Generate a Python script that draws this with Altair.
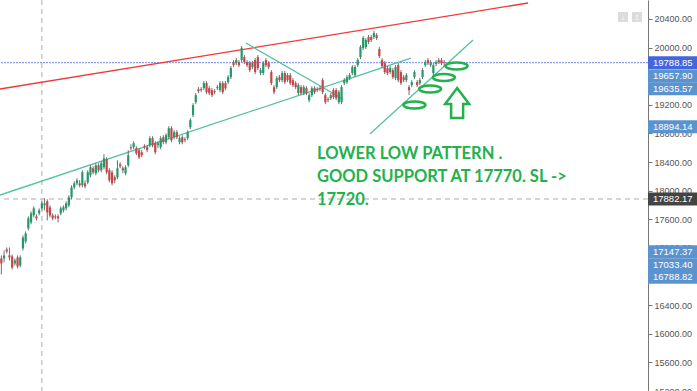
import altair as alt
import pandas as pd

# ---------------- data ----------------
opens = [17053,17053,17179,17095,17081,16983,17067,16955,17193,17291,
         17473,17557,17655,17641,17683,17753,17795,17851,17767,17655,
         17641,17641,17683,17725,17753,17795,17907,18047,18103,18103,
         18075,18103,18117,18215,18313,18243,18355,18285,18327,18439,
         18285,18257,18187,18187,18369,18313,18243,18355,18607,18607,
         18593,18565,18537,18621,18607,18635,18733,18663,18635,18607,
         18747,18677,18747,18873,18747,18817,18677,18747,18719,18733,
         18887,19055,19237,19419,19419,19433,19503,19433,19405,19391,
         19447,19405,19503,19503,19517,19587,19797,19783,19797,19825,
         19867,19797,19783,19727,19825,19867,19643,19643,19825,19783,
         19657,19447,19447,19587,19545,19643,19615,19615,19545,19503,
         19363,19447,19363,19433,19265,19335,19433,19419,19433,19545,
         19335,19279,19293,19405,19405,19237,19237,19503,19517,19573,
         19643,19615,19755,19867,19993,20007,20147,20147,20147,20175,
         19979,19825,19783,19713,19657,19685,19573,19755,19657,19587,
         19545,19447,19475,19587,19517,19503,19587,19755,19825,19755,
         19643,19769,19825,19825,19797]
highs = [17095,17165,17207,17207,17109,17053,17095,17095,17375,17431,
         17641,17711,17781,17669,17753,17851,17893,17879,17795,17683,
         17669,17669,17781,17795,17851,17935,18075,18131,18173,18145,
         18285,18145,18285,18355,18341,18383,18383,18411,18509,18467,
         18313,18285,18215,18425,18397,18341,18355,18565,18649,18691,
         18621,18593,18565,18649,18635,18761,18761,18691,18691,18761,
         18775,18803,18901,18901,18845,18845,18761,18775,18747,18845,
         19013,19223,19363,19447,19447,19531,19531,19461,19433,19419,
         19475,19531,19531,19531,19615,19741,19825,19853,19825,20021,
         19895,19825,19811,19811,19853,19895,19713,19811,19853,19811,
         19685,19475,19601,19615,19671,19671,19643,19643,19573,19531,
         19503,19475,19475,19461,19363,19461,19461,19447,19461,19573,
         19363,19307,19363,19433,19433,19405,19475,19573,19615,19643,
         19755,19755,19853,20035,20161,20133,20175,20175,20231,20203,
         20007,19853,19811,19741,19741,19713,19755,19783,19685,19615,
         19643,19475,19545,19685,19545,19573,19713,19825,19853,19825,
         19783,19825,19853,19853,19825]
lows = [16829,16997,17123,17025,16899,16955,16913,16927,17165,17263,
        17445,17529,17627,17585,17655,17725,17725,17585,17627,17585,
        17599,17557,17655,17697,17725,17767,17879,18019,18075,18047,
        18047,18033,18089,18187,18229,18215,18257,18257,18299,18229,
        18117,18075,18103,18159,18313,18243,18215,18327,18565,18579,
        18495,18439,18467,18579,18537,18607,18607,18509,18593,18579,
        18649,18649,18719,18677,18719,18719,18649,18649,18677,18705,
        18859,19027,19209,19363,19377,19405,19349,19335,19307,19349,
        19405,19377,19349,19405,19489,19559,19727,19755,19727,19797,
        19769,19727,19657,19699,19629,19685,19615,19615,19727,19699,
        19475,19349,19419,19517,19517,19489,19517,19475,19447,19419,
        19335,19335,19335,19335,19237,19307,19349,19377,19391,19349,
        19209,19237,19265,19279,19265,19209,19209,19475,19489,19545,
        19615,19587,19727,19839,19965,19979,20049,20077,20119,20105,
        19853,19713,19629,19615,19629,19559,19545,19517,19475,19517,
        19517,19335,19447,19559,19447,19475,19559,19727,19755,19727,
        19615,19741,19769,19755,19727]
closes = [16983,17095,17151,17067,16927,17025,16941,17067,17347,17403,
          17613,17683,17753,17613,17725,17823,17823,17697,17655,17613,
          17627,17613,17753,17767,17823,17907,18047,18103,18145,18075,
          18257,18061,18257,18327,18257,18355,18285,18383,18453,18257,
          18145,18103,18145,18313,18341,18285,18327,18495,18593,18663,
          18523,18467,18495,18607,18565,18733,18635,18537,18663,18733,
          18677,18775,18873,18705,18817,18747,18733,18677,18705,18817,
          18985,19195,19335,19391,19405,19503,19377,19363,19335,19377,
          19433,19503,19377,19433,19587,19713,19755,19825,19755,19993,
          19797,19755,19685,19783,19657,19713,19685,19783,19755,19727,
          19503,19377,19573,19545,19643,19517,19545,19503,19475,19447,
          19475,19363,19447,19363,19335,19433,19377,19405,19419,19377,
          19237,19265,19335,19307,19293,19377,19447,19545,19587,19615,
          19727,19727,19825,20007,20133,20105,20077,20105,20203,20133,
          19881,19741,19657,19643,19713,19587,19727,19545,19503,19545,
          19615,19405,19517,19657,19475,19545,19685,19797,19783,19797,
          19755,19797,19797,19783,19788.85]

# price tags on the right-hand scale
tag_values = [19788.85, 19657.90, 19635.57, 18894.14, 17882.17, 17147.37, 17033.40, 16788.82]
tag_kinds = ["last", "level", "level", "level", "cross", "level", "level", "level"]
tag_shift_px = [0, 4, 15, 0, 0, 0, 5, 0]   # stacking of overlapping tags
tag_palette = {"last": "#4466dd", "level": "#5b93cf", "cross": "#444444"}

axis_ticks = list(range(15200, 20401, 400))

# drawn lines (start index, start price, end index, end price)
red_line = {"x": [-0.5], "y": [19421], "x2": [195.1], "y2": [20623]}
teal_lines = {"x": [-0.5, 90.6, 136.5], "y": [17939, 20064, 18792],
              "x2": [151.7, 126.5, 174.7], "y2": [19854, 19281, 20106]}
ellipse_x = [153.0, 158.8, 163.9, 168.6]
ellipse_y = [19197, 19421, 19582, 19743]
arrow_x = [168.8]
arrow_y = [19225]
note_lines = ["LOWER LOW PATTERN .", "GOOD SUPPORT AT 17770. SL ->", "17720."]
note_x = [116.9]
note_y = [18443]
cross_index = 15
cross_price = 17882.17
last_price = 19788.85

# ---------------- chart ----------------
W, H = 648, 391
Y_MIN, Y_MAX = 15200, 20665
PX = (Y_MAX - Y_MIN) / H

xs = alt.Scale(domain=[-0.5, 239.5], nice=False, zero=False, padding=0)
ys = alt.Scale(domain=[Y_MIN, Y_MAX], nice=False, zero=False, padding=0)
yaxis = alt.Axis(orient="right", values=axis_ticks, format=".2f", title=None, grid=False,
                 labelFont="Liberation Sans", labelFontSize=9, labelColor="#555555",
                 tickColor="#777777", domainColor="#777777", tickSize=4, labelPadding=2,
                 labelOverlap=False, labelFlush=False)

def X(f):
    return alt.X(f, type="quantitative", scale=xs, axis=None)

def Y(f):
    return alt.Y(f, type="quantitative", scale=ys, axis=yaxis)

candles = pd.DataFrame({"idx": list(range(len(closes))), "open": opens, "high": highs,
                        "low": lows, "close": closes})
candles["fill"] = ["#1f9a68" if c >= o else "#c94448" for o, c in zip(opens, closes)]

vline = alt.Chart(pd.DataFrame({"x": [cross_index]})).mark_rule(
    color="#c8c8c8", strokeDash=[5, 4], strokeWidth=1.5).encode(x=X("x"))
hline = alt.Chart(pd.DataFrame({"y": [cross_price]})).mark_rule(
    color="#c8c8c8", strokeDash=[5, 4], strokeWidth=1.5).encode(y=Y("y"))
lastline = alt.Chart(pd.DataFrame({"y": [last_price]})).mark_rule(
    color="#6f86e8", strokeDash=[2, 1], strokeWidth=1).encode(y=Y("y"))

red = alt.Chart(pd.DataFrame(red_line)).mark_rule(color="#f03a3a", strokeWidth=1.3).encode(
    x=X("x"), y=Y("y"), x2="x2", y2="y2")
teal = alt.Chart(pd.DataFrame(teal_lines)).mark_rule(color="#55c0a2", strokeWidth=1.3).encode(
    x=X("x"), y=Y("y"), x2="x2", y2="y2")

wicks = alt.Chart(candles).mark_rule(color="#6f6f6f", strokeWidth=1).encode(
    x=X("idx"), y=Y("low"), y2="high")
bodies = alt.Chart(candles).mark_bar(size=2.2).encode(
    x=X("idx"), y=Y("open"), y2="close", color=alt.Color("fill:N", scale=None))

ELLIPSE = "M -1 0 A 1 0.32 0 1 1 1 0 A 1 0.32 0 1 1 -1 0 Z"
ARROW = "M 0 -1 L 0.8 0.07 L 0.4 0.07 L 0.4 1 L -0.4 1 L -0.4 0.07 L -0.8 0.07 Z"
GREEN = "#22b14c"
ellipses = alt.Chart(pd.DataFrame({"x": ellipse_x, "y": ellipse_y})).mark_point(
    shape=ELLIPSE, size=484, filled=False, stroke=GREEN, strokeWidth=2.5, opacity=1).encode(
    x=X("x"), y=Y("y"))
arrow = alt.Chart(pd.DataFrame({"x": arrow_x, "y": arrow_y})).mark_point(
    shape=ARROW, size=900, filled=False, stroke=GREEN, strokeWidth=2.5, opacity=1).encode(
    x=X("x"), y=Y("y"))
note = alt.Chart(pd.DataFrame({"x": note_x, "y": note_y})).mark_text(
    text=note_lines, align="left", baseline="alphabetic", font="Lato", fontWeight="bold",
    fontSize=16.5, lineHeight=23, color=GREEN).encode(x=X("x"), y=Y("y"))

tags = pd.DataFrame({"value": tag_values, "shift": tag_shift_px,
                     "fill": [tag_palette[k] for k in tag_kinds]})
tag_base = alt.Chart(tags).transform_calculate(
    pos=f"datum.value - datum.shift * {PX}",
    top=f"datum.value - datum.shift * {PX} + 6.5 * {PX}",
    bot=f"datum.value - datum.shift * {PX} - 6.5 * {PX}",
    label="format(datum.value, '.2f')")
tag_boxes = tag_base.mark_rect().encode(
    x=alt.value(W), x2=alt.value(W + 49), y=Y("top:Q"), y2="bot:Q",
    color=alt.Color("fill:N", scale=None))
tag_text = tag_base.mark_text(align="left", baseline="middle", font="Liberation Sans",
                              fontSize=9.5, color="white").encode(
    x=alt.value(W + 5), y=Y("pos:Q"), text="label:N")

icons = alt.Chart(pd.DataFrame({"a": [618, 632], "b": [628, 642]})).mark_rect(
    color="#dcdcdc").encode(x=alt.X("a:Q", scale=None), x2="b:Q", y=alt.value(12), y2=alt.value(22))
icon_text = alt.Chart(pd.DataFrame({"a": [623, 637], "t": ["↓", "↕"]})).mark_text(
    color="white", fontSize=9, fontWeight="bold", baseline="middle").encode(
    x=alt.X("a:Q", scale=None), y=alt.value(17), text="t:N")

chart = alt.layer(vline, hline, lastline, red, teal, wicks, bodies, ellipses, arrow, note,
                  tag_boxes, tag_text, icons, icon_text).properties(
    width=W, height=H, padding={"left": 0, "top": 0, "right": 49, "bottom": 0},
    autosize=alt.AutoSizeParams(type="none"), background="white"
).configure_view(stroke=None)

chart.save("out.html", embed_options={"renderer": "svg", "actions": False})
